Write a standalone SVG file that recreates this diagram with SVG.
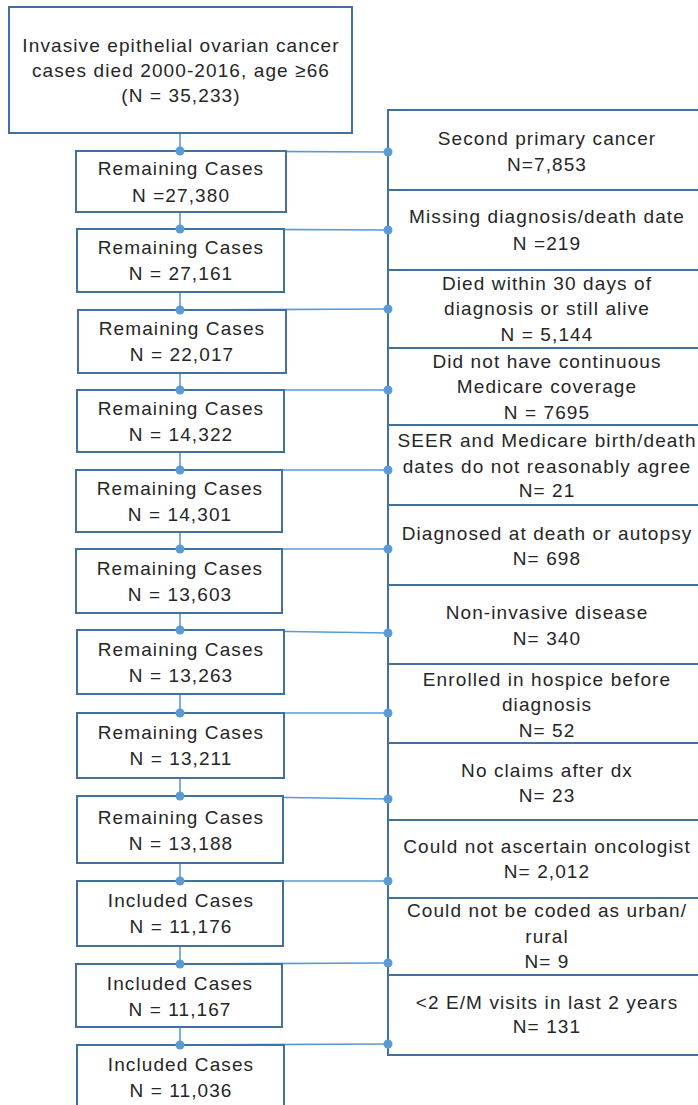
<svg xmlns="http://www.w3.org/2000/svg" width="698" height="1105" viewBox="0 0 698 1105">
<style>
.box{fill:#fff;stroke:#41719C;stroke-width:2}
.t{font-family:"Liberation Sans",Arial,sans-serif;font-size:19px;letter-spacing:1.1px;fill:#262626;text-anchor:middle}
.c{stroke:#5B9BD5;stroke-width:1.6;fill:none}
.d{fill:#5B9BD5}
</style>
<rect width="698" height="1105" fill="#fff"/>
<g id="connectors">
<path class="c" d="M180 133V151M180 212V229M180 292V310M180 373V390M180 452V470M180 532V549M180 613V630M180 694V713M180 778V796M180 863V881M180 946V964M180 1027V1045"/>
<path class="c" d="M180 151L388 152M180 229L388 230M180 310L388 309M180 390L388 390M180 470L388 470M180 549L388 549M180 630L388 633M180 713L388 713M180 796L388 799M180 881L388 881M180 964L388 963M180 1045L388 1044"/>
</g>
<g id="n0"><rect class="box" x="9" y="7" width="343" height="126"/>
<text class="t" x="181" y="52">Invasive epithelial ovarian cancer</text>
<text class="t" x="181" y="77">cases died 2000-2016, age ≥66</text>
<text class="t" x="181" y="102">(N = 35,233)</text></g>
<g id="n1"><rect class="box" x="76" y="151" width="210" height="61"/><text class="t" x="181" y="175">Remaining Cases</text><text class="t" x="181" y="202">N =27,380</text></g>
<g id="n2"><rect class="box" x="77" y="229" width="207" height="63"/><text class="t" x="181" y="254">Remaining Cases</text><text class="t" x="181" y="280">N = 27,161</text></g>
<g id="n3"><rect class="box" x="78" y="310" width="208" height="63"/><text class="t" x="182" y="335">Remaining Cases</text><text class="t" x="182" y="361">N = 22,017</text></g>
<g id="n4"><rect class="box" x="77" y="390" width="207" height="62"/><text class="t" x="181" y="415">Remaining Cases</text><text class="t" x="181" y="441">N = 14,322</text></g>
<g id="n5"><rect class="box" x="76" y="470" width="206" height="62"/><text class="t" x="180" y="495">Remaining Cases</text><text class="t" x="180" y="521">N = 14,301</text></g>
<g id="n6"><rect class="box" x="76" y="549" width="206" height="64"/><text class="t" x="180" y="575">Remaining Cases</text><text class="t" x="180" y="601">N = 13,603</text></g>
<g id="n7"><rect class="box" x="77" y="630" width="207" height="64"/><text class="t" x="181" y="656">Remaining Cases</text><text class="t" x="181" y="682">N = 13,263</text></g>
<g id="n8"><rect class="box" x="77" y="713" width="207" height="65"/><text class="t" x="181" y="739">Remaining Cases</text><text class="t" x="181" y="765">N = 13,211</text></g>
<g id="n9"><rect class="box" x="77" y="796" width="206" height="67"/><text class="t" x="181" y="824">Remaining Cases</text><text class="t" x="181" y="850">N = 13,188</text></g>
<g id="n10"><rect class="box" x="77" y="881" width="206" height="65"/><text class="t" x="181" y="907">Included Cases</text><text class="t" x="181" y="933">N = 11,176</text></g>
<g id="n11"><rect class="box" x="76" y="964" width="206" height="63"/><text class="t" x="180" y="990">Included Cases</text><text class="t" x="180" y="1016">N = 11,167</text></g>
<g id="n12"><rect class="box" x="77" y="1045" width="207" height="70"/><text class="t" x="181" y="1071">Included Cases</text><text class="t" x="181" y="1097">N = 11,036</text></g>
<g id="e1"><rect class="box" x="388" y="110" width="320" height="80"/><text class="t" x="547" y="145">Second primary cancer</text><text class="t" x="547" y="171">N=7,853</text></g>
<g id="e2"><rect class="box" x="388" y="190" width="320" height="80"/><text class="t" x="547" y="223">Missing diagnosis/death date</text><text class="t" x="547" y="250">N =219</text></g>
<g id="e3"><rect class="box" x="388" y="270" width="320" height="78"/><text class="t" x="547" y="290">Died within 30 days of</text><text class="t" x="547" y="315">diagnosis or still alive</text><text class="t" x="547" y="341">N = 5,144</text></g>
<g id="e4"><rect class="box" x="388" y="348" width="320" height="77"/><text class="t" x="547" y="368">Did not have continuous</text><text class="t" x="547" y="393">Medicare coverage</text><text class="t" x="547" y="419">N = 7695</text></g>
<g id="e5"><rect class="box" x="388" y="425" width="320" height="80"/><text class="t" x="547" y="447">SEER and Medicare birth/death</text><text class="t" x="547" y="473">dates do not reasonably agree</text><text class="t" x="547" y="497">N= 21</text></g>
<g id="e6"><rect class="box" x="388" y="505" width="320" height="80"/><text class="t" x="547" y="540">Diagnosed at death or autopsy</text><text class="t" x="547" y="565">N= 698</text></g>
<g id="e7"><rect class="box" x="388" y="585" width="320" height="79"/><text class="t" x="547" y="619">Non-invasive disease</text><text class="t" x="547" y="645">N= 340</text></g>
<g id="e8"><rect class="box" x="388" y="664" width="320" height="79"/><text class="t" x="547" y="686">Enrolled in hospice before</text><text class="t" x="547" y="711">diagnosis</text><text class="t" x="547" y="737">N= 52</text></g>
<g id="e9"><rect class="box" x="388" y="743" width="320" height="77"/><text class="t" x="547" y="777">No claims after dx</text><text class="t" x="547" y="802">N= 23</text></g>
<g id="e10"><rect class="box" x="388" y="820" width="320" height="78"/><text class="t" x="547" y="853">Could not ascertain oncologist</text><text class="t" x="547" y="878">N= 2,012</text></g>
<g id="e11"><rect class="box" x="388" y="898" width="320" height="77"/><text class="t" x="547" y="917">Could not be coded as urban/</text><text class="t" x="547" y="943">rural</text><text class="t" x="547" y="968">N= 9</text></g>
<g id="e12"><rect class="box" x="388" y="975" width="320" height="80"/><text class="t" x="547" y="1009">&lt;2 E/M visits in last 2 years</text><text class="t" x="547" y="1033">N= 131</text></g>
<g id="dots">
<circle class="d" cx="180" cy="151" r="4.5"/><circle class="d" cx="180" cy="229" r="4.5"/><circle class="d" cx="180" cy="310" r="4.5"/><circle class="d" cx="180" cy="390" r="4.5"/><circle class="d" cx="180" cy="470" r="4.5"/><circle class="d" cx="180" cy="549" r="4.5"/><circle class="d" cx="180" cy="630" r="4.5"/><circle class="d" cx="180" cy="713" r="4.5"/><circle class="d" cx="180" cy="796" r="4.5"/><circle class="d" cx="180" cy="881" r="4.5"/><circle class="d" cx="180" cy="964" r="4.5"/><circle class="d" cx="180" cy="1045" r="4.5"/>
<circle class="d" cx="388" cy="152" r="4.5"/><circle class="d" cx="388" cy="230" r="4.5"/><circle class="d" cx="388" cy="309" r="4.5"/><circle class="d" cx="388" cy="390" r="4.5"/><circle class="d" cx="388" cy="470" r="4.5"/><circle class="d" cx="388" cy="549" r="4.5"/><circle class="d" cx="388" cy="633" r="4.5"/><circle class="d" cx="388" cy="713" r="4.5"/><circle class="d" cx="388" cy="799" r="4.5"/><circle class="d" cx="388" cy="881" r="4.5"/><circle class="d" cx="388" cy="963" r="4.5"/><circle class="d" cx="388" cy="1044" r="4.5"/>
</g>
</svg>
